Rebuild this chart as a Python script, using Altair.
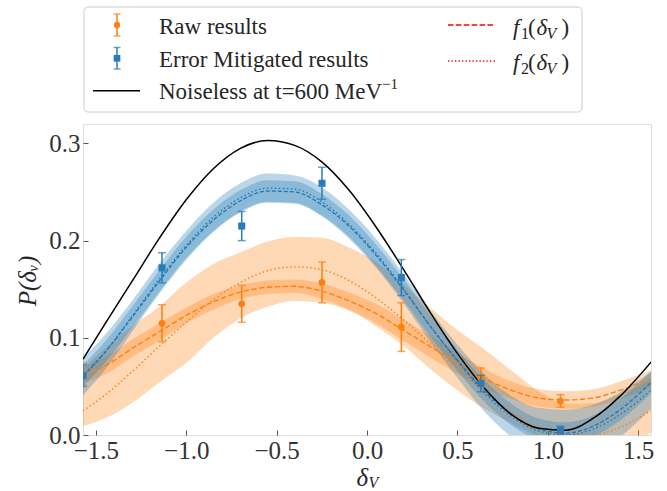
import altair as alt
import pandas as pd

# ---------------- data ----------------
X = [-1.5708, -1.45, -1.3, -1.15, -1.0, -0.85, -0.7, -0.55, -0.4, -0.25, -0.1,
     0.05, 0.2, 0.35, 0.5, 0.65, 0.8, 0.95, 1.1, 1.25, 1.4, 1.5708]

NOISELESS = [0.078, 0.114, 0.158, 0.202, 0.242, 0.274, 0.295, 0.303, 0.298, 0.281, 0.252,
             0.214, 0.171, 0.126, 0.084, 0.048, 0.021, 0.007, 0.005, 0.017, 0.040, 0.075]

MIT_F1 = [0.061, 0.085, 0.121, 0.158, 0.193, 0.221, 0.241, 0.251, 0.250, 0.237, 0.215,
          0.185, 0.150, 0.112, 0.077, 0.045, 0.021, 0.006, 0.002, 0.009, 0.026, 0.054]
MIT_F2 = [0.060, 0.085, 0.122, 0.160, 0.195, 0.224, 0.244, 0.254, 0.253, 0.240, 0.217,
          0.187, 0.151, 0.112, 0.076, 0.043, 0.019, 0.004, 0.000, 0.006, 0.021, 0.046]
MIT_F1_LO = [0.050, 0.074, 0.110, 0.147, 0.182, 0.210, 0.230, 0.240, 0.239, 0.226, 0.204,
             0.174, 0.139, 0.101, 0.066, 0.034, 0.010, -0.005, -0.009, -0.002, 0.015, 0.043]
MIT_F1_HI = [0.072, 0.096, 0.132, 0.169, 0.204, 0.232, 0.252, 0.262, 0.261, 0.248, 0.226,
             0.196, 0.161, 0.123, 0.088, 0.056, 0.032, 0.017, 0.013, 0.020, 0.037, 0.065]
MIT_F2_LO = [0.041, 0.067, 0.106, 0.145, 0.180, 0.209, 0.229, 0.239, 0.238, 0.225, 0.202,
             0.172, 0.136, 0.096, 0.059, 0.024, -0.002, -0.020, -0.026, -0.019, -0.002, 0.027]
MIT_F2_HI = [0.079, 0.103, 0.138, 0.176, 0.210, 0.239, 0.259, 0.269, 0.267, 0.255, 0.232,
             0.202, 0.166, 0.128, 0.093, 0.062, 0.040, 0.028, 0.026, 0.031, 0.044, 0.065]

RAW_F1 = [0.062, 0.071, 0.089, 0.106, 0.123, 0.137, 0.147, 0.152, 0.153, 0.148, 0.138,
          0.125, 0.108, 0.091, 0.074, 0.058, 0.046, 0.038, 0.036, 0.038, 0.046, 0.058]
RAW_F1_LO = [0.053, 0.062, 0.080, 0.097, 0.115, 0.129, 0.140, 0.145, 0.146, 0.140, 0.129,
             0.115, 0.097, 0.080, 0.063, 0.048, 0.037, 0.029, 0.027, 0.029, 0.037, 0.049]
RAW_F1_HI = [0.071, 0.080, 0.098, 0.115, 0.131, 0.145, 0.154, 0.159, 0.160, 0.156, 0.147,
             0.135, 0.119, 0.102, 0.085, 0.068, 0.055, 0.047, 0.045, 0.047, 0.055, 0.067]
RAW_F2 = [0.025, 0.041, 0.065, 0.091, 0.116, 0.139, 0.157, 0.169, 0.173, 0.170, 0.159,
          0.141, 0.119, 0.094, 0.068, 0.044, 0.023, 0.008, 0.000, 0.000, 0.008, 0.025]
RAW_F2_LO = [0.009, 0.017, 0.033, 0.054, 0.074, 0.100, 0.120, 0.132, 0.138, 0.136, 0.128,
             0.112, 0.092, 0.068, 0.046, 0.027, 0.012, -0.002, -0.012, -0.015, -0.010, 0.002]
RAW_F2_HI = [0.068, 0.089, 0.112, 0.132, 0.157, 0.176, 0.188, 0.199, 0.204, 0.203, 0.193,
             0.178, 0.155, 0.131, 0.108, 0.088, 0.066, 0.045, 0.032, 0.033, 0.042, 0.057]

RAW_X = [-1.5708, -1.134, -0.693, -0.249, 0.190, 0.630, 1.070]
RAW_Y = [0.063, 0.115, 0.135, 0.157, 0.111, 0.059, 0.035]
RAW_ERR = [0.011, 0.019, 0.019, 0.021, 0.025, 0.010, 0.0065]

MIT_X = [-1.5708, -1.134, -0.693, -0.249, 0.190, 0.630, 1.070]
MIT_Y = [0.061, 0.172, 0.215, 0.259, 0.162, 0.053, 0.005]
MIT_ERR = [0.011, 0.0155, 0.015, 0.0165, 0.0185, 0.0085, 0.004]

X_TICKS = [-1.5, -1.0, -0.5, 0.0, 0.5, 1.0, 1.5]
Y_TICKS = [0.0, 0.1, 0.2, 0.3]

# ---------------- tables ----------------
curves = pd.DataFrame(dict(
    x=X, noiseless=NOISELESS,
    mf1=MIT_F1, mf2=MIT_F2, mf1lo=MIT_F1_LO, mf1hi=MIT_F1_HI, mf2lo=MIT_F2_LO, mf2hi=MIT_F2_HI,
    rf1=RAW_F1, rf2=RAW_F2, rf1lo=RAW_F1_LO, rf1hi=RAW_F1_HI, rf2lo=RAW_F2_LO, rf2hi=RAW_F2_HI,
))
raw = pd.DataFrame(dict(x=RAW_X, y=RAW_Y, err=RAW_ERR))
raw["lo"] = raw["y"] - raw["err"]
raw["hi"] = raw["y"] + raw["err"]
mit = pd.DataFrame(dict(x=MIT_X, y=MIT_Y, err=MIT_ERR))
mit["lo"] = mit["y"] - mit["err"]
mit["hi"] = mit["y"] + mit["err"]
one = pd.DataFrame({"a": [0]})

ORANGE = "#ff7f0e"
BLUE = "#1f77b4"
FONT = "Liberation Serif"

xs = alt.Scale(domain=[-1.5708, 1.5708], nice=False, zero=False)
ys = alt.Scale(domain=[0, 0.32], nice=False, zero=False)
xaxis = alt.Axis(values=X_TICKS, format=".1f", offset=-5, domain=False, ticks=True, tickSize=5,
                 tickColor="#555", tickWidth=1, labelFont=FONT, labelFontSize=25, labelColor="#333",
                 labelPadding=3, labelFlush=False, labelOverlap=False, grid=False, title=None)
yaxis = alt.Axis(values=Y_TICKS, format=".1f", offset=-5, domain=False, ticks=True, tickSize=5,
                 tickColor="#555", tickWidth=1, labelFont=FONT, labelFontSize=25, labelColor="#333",
                 labelPadding=3, labelFlush=False, labelOverlap=False, grid=False, title=None)


def X_(field="x"):
    return alt.X(f"{field}:Q", scale=xs, axis=xaxis)


def Y_(field):
    return alt.Y(f"{field}:Q", scale=ys, axis=yaxis)


def band(lo, hi, color, op=0.3):
    return alt.Chart(curves).mark_area(color=color, opacity=op, clip=True, interpolate="monotone").encode(
        x=X_(), y=Y_(lo), y2=alt.Y2(f"{hi}:Q"))


def line(field, color, dash=None, width=1.4):
    kw = dict(color=color, strokeWidth=width, clip=True, interpolate="monotone")
    if dash:
        kw["strokeDash"] = dash
    return alt.Chart(curves).mark_line(**kw).encode(x=X_(), y=Y_(field))


def errbars(df, color, shape, size):
    bars = alt.Chart(df).mark_rule(color=color, strokeWidth=1.5, clip=True).encode(
        x=X_(), y=Y_("lo"), y2=alt.Y2("hi:Q"))
    cap_lo = alt.Chart(df).mark_tick(color=color, orient="horizontal", size=8, thickness=1.5, clip=True).encode(
        x=X_(), y=Y_("lo"))
    cap_hi = alt.Chart(df).mark_tick(color=color, orient="horizontal", size=8, thickness=1.5, clip=True).encode(
        x=X_(), y=Y_("hi"))
    pts = alt.Chart(df).mark_point(color=color, shape=shape, filled=True, size=size, opacity=1, clip=True).encode(
        x=X_(), y=Y_("y"))
    return [bars, cap_lo, cap_hi, pts]


def txt(s, x, y, size=23, style="normal", align="left", angle=0, baseline="alphabetic"):
    kw = dict(font=FONT, fontSize=size, fontStyle=style, align=align, baseline=baseline, color="#262626")
    if angle:
        kw["angle"] = angle
    return alt.Chart(one).mark_text(**kw).encode(x=alt.value(x), y=alt.value(y), text=alt.value(s))


def px_rule(x1, x2, y1, y2, color, width=1.5, dash=None):
    kw = dict(color=color, strokeWidth=width)
    if dash:
        kw["strokeDash"] = dash
    return alt.Chart(one).mark_rule(**kw).encode(
        x=alt.value(x1), x2=alt.value(x2), y=alt.value(y1), y2=alt.value(y2))


def px_tick(x, y, color):
    return alt.Chart(one).mark_tick(color=color, orient="horizontal", size=7, thickness=1.5).encode(
        x=alt.value(x), y=alt.value(y))


def px_point(x, y, color, shape, size):
    return alt.Chart(one).mark_point(color=color, shape=shape, filled=True, size=size, opacity=1).encode(
        x=alt.value(x), y=alt.value(y))


layers = [
    band("rf2lo", "rf2hi", ORANGE),
    band("rf1lo", "rf1hi", ORANGE),
    band("mf2lo", "mf2hi", BLUE),
    band("mf1lo", "mf1hi", BLUE),
    line("rf1", ORANGE, [5.5, 2.4]),
    line("rf2", ORANGE, [1.5, 2.5]),
    line("mf1", BLUE, [4, 2], 1.3),
    line("mf2", BLUE, [1.5, 2.5], 1.3),
    line("noiseless", "black", None, 1.5),
]
layers += errbars(raw, ORANGE, "circle", 45)
layers += errbars(mit, "#2b7bba", "square", 50)

# legend (drawn above the plot area)
legend_layers = [
    alt.Chart(one).mark_rect(fill="white", fillOpacity=0.8, stroke="#cccccc", strokeWidth=1,
                             cornerRadius=4).encode(
        x=alt.value(1), x2=alt.value(499), y=alt.value(-117), y2=alt.value(-12)),
    px_rule(34, 34, -110, -88, ORANGE), px_tick(34, -110, ORANGE), px_tick(34, -88, ORANGE),
    px_point(34, -99, ORANGE, "circle", 40),
    px_rule(34, 34, -76.5, -55, "#2b7bba"), px_tick(34, -76.5, "#2b7bba"), px_tick(34, -55, "#2b7bba"),
    px_point(34, -65.7, "#2b7bba", "square", 45),
    px_rule(10, 57, -33.3, -33.3, "black"),
    px_rule(365, 412, -99, -99, "red", 1.3, [5.5, 2.4]),
    px_rule(365, 412, -63, -63, "red", 1.3, [1.3, 2.2]),
    txt("Raw results", 76, -90.5),
    txt("Error Mitigated results", 76, -57.3),
    txt("Noiseless at t=600 MeV", 76, -25),
    txt("\u22121", 299, -35, size=15),
    # f1(delta_V)
    txt("f", 430, -89.5, style="italic"), txt("1", 438, -85, size=16),
    txt("(", 445, -89.5), txt("\u03b4", 453.5, -89.5, style="italic"),
    txt("V", 463.5, -85, size=16, style="italic"), txt(")", 478.5, -89.5),
    # f2(delta_V)
    txt("f", 430, -54.5, style="italic"), txt("2", 438, -50, size=16),
    txt("(", 445, -54.5), txt("\u03b4", 453.5, -54.5, style="italic"),
    txt("V", 463.5, -50, size=16, style="italic"), txt(")", 478.5, -54.5),
    # axis titles
    txt("\u03b4", 273.5, 361.5, size=25, style="italic"),
    txt("V", 285.5, 364, size=16, style="italic"),
    txt("P(\u03b4\u1d65)", -55, 157, size=25, style="italic", align="center", angle=270, baseline="middle"),
]

chart = alt.layer(*(layers + legend_layers)).properties(
    width=568, height=311,
    padding={"left": 83, "top": 124, "right": 16, "bottom": 56},
    autosize=alt.AutoSizeParams(type="none"),
).configure_view(stroke="#222222", strokeWidth=1.2).configure(background="white")

chart.save("out.html", embed_options={"renderer": "svg", "actions": False})
